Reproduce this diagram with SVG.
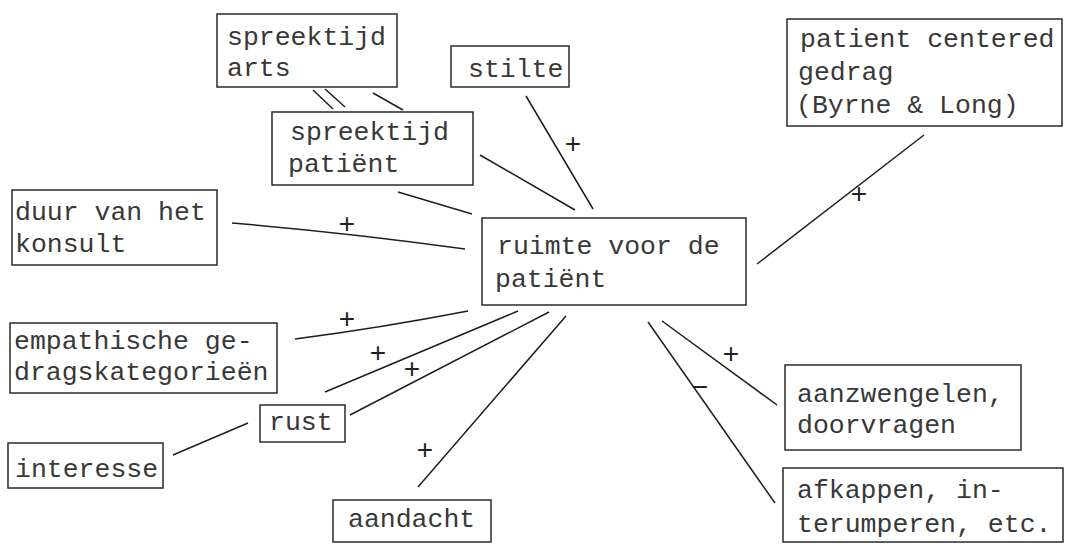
<svg xmlns="http://www.w3.org/2000/svg" width="1066" height="544" viewBox="0 0 1066 544">
<style>
.box{fill:none;stroke:#2a2a2a;stroke-width:1.5}
.t{font-family:"Liberation Mono","Courier New",monospace;font-size:26.5px;fill:#383838}
.c{stroke:#1e1e1e;stroke-width:1.5;fill:none}
.s{font-family:"Liberation Sans",Arial,sans-serif;font-size:28px;fill:#222;text-anchor:middle}
</style>
<rect width="1066" height="544" fill="#fff"/>
<g id="connectors">
<line class="c" x1="313" y1="90" x2="333" y2="109"/>
<line class="c" x1="325" y1="89" x2="345" y2="107"/>
<line class="c" x1="373" y1="93" x2="403" y2="110"/>
<line class="c" x1="526" y1="96" x2="593" y2="209"/>
<line class="c" x1="480" y1="155" x2="575" y2="210"/>
<line class="c" x1="398" y1="192" x2="472" y2="214"/>
<path class="c" d="M232,223 Q350,233 465,249"/>
<line class="c" x1="924" y1="135" x2="757" y2="264"/>
<path class="c" d="M295,339 Q380,328 468,311"/>
<line class="c" x1="325" y1="392" x2="518" y2="311"/>
<line class="c" x1="350" y1="415" x2="549" y2="312"/>
<line class="c" x1="173" y1="455" x2="248" y2="423"/>
<line class="c" x1="418" y1="487" x2="566" y2="316"/>
<line class="c" x1="662" y1="321" x2="777" y2="405"/>
<line class="c" x1="648" y1="322" x2="775" y2="503"/>
<text class="s" x="573" y="153">+</text>
<text class="s" x="347" y="233">+</text>
<text class="s" x="859" y="203">+</text>
<text class="s" x="347" y="328">+</text>
<text class="s" x="378" y="362">+</text>
<text class="s" x="412" y="378">+</text>
<text class="s" x="425" y="459">+</text>
<text class="s" x="731" y="363">+</text>
<text class="s" x="700" y="396">−</text>
</g>
<g id="spreektijd-arts">
<rect class="box" x="217" y="14" width="180" height="73"/>
<text class="t" x="227" y="45">spreektijd</text>
<text class="t" x="227" y="76">arts</text>
</g>
<g id="stilte">
<rect class="box" x="451" y="46" width="118" height="41"/>
<text class="t" x="468" y="77">stilte</text>
</g>
<g id="spreektijd-patient">
<rect class="box" x="272" y="112" width="201" height="73"/>
<text class="t" x="290" y="140">spreektijd</text>
<text class="t" x="288" y="172">patiënt</text>
</g>
<g id="duur">
<rect class="box" x="12" y="190" width="205" height="75"/>
<text class="t" x="15" y="220">duur van het</text>
<text class="t" x="15" y="252">konsult</text>
</g>
<g id="ruimte">
<rect class="box" x="482" y="218" width="264" height="87"/>
<text class="t" x="497" y="254">ruimte voor de</text>
<text class="t" x="495" y="287">patiënt</text>
</g>
<g id="patient-centered">
<rect class="box" x="787" y="19" width="275" height="107"/>
<text class="t" x="800" y="47">patient centered</text>
<text class="t" x="798" y="80">gedrag</text>
<text class="t" x="796" y="113">(Byrne &amp; Long)</text>
</g>
<g id="empathische">
<rect class="box" x="10" y="323" width="267" height="70"/>
<text class="t" x="14" y="349">empathische ge-</text>
<text class="t" x="14" y="380">dragskategorieën</text>
</g>
<g id="rust">
<rect class="box" x="260" y="405" width="85" height="37"/>
<text class="t" x="269" y="430">rust</text>
</g>
<g id="interesse">
<rect class="box" x="8" y="443" width="155" height="45"/>
<text class="t" x="15" y="477">interesse</text>
</g>
<g id="aandacht">
<rect class="box" x="333" y="500" width="158" height="42"/>
<text class="t" x="348" y="527">aandacht</text>
</g>
<g id="aanzwengelen">
<rect class="box" x="785" y="365" width="236" height="85"/>
<text class="t" x="797" y="402">aanzwengelen,</text>
<text class="t" x="797" y="433">doorvragen</text>
</g>
<g id="afkappen">
<rect class="box" x="783" y="468" width="280" height="74"/>
<text class="t" x="797" y="498">afkappen, in-</text>
<text class="t" x="797" y="532">terumperen, etc.</text>
</g>
</svg>
